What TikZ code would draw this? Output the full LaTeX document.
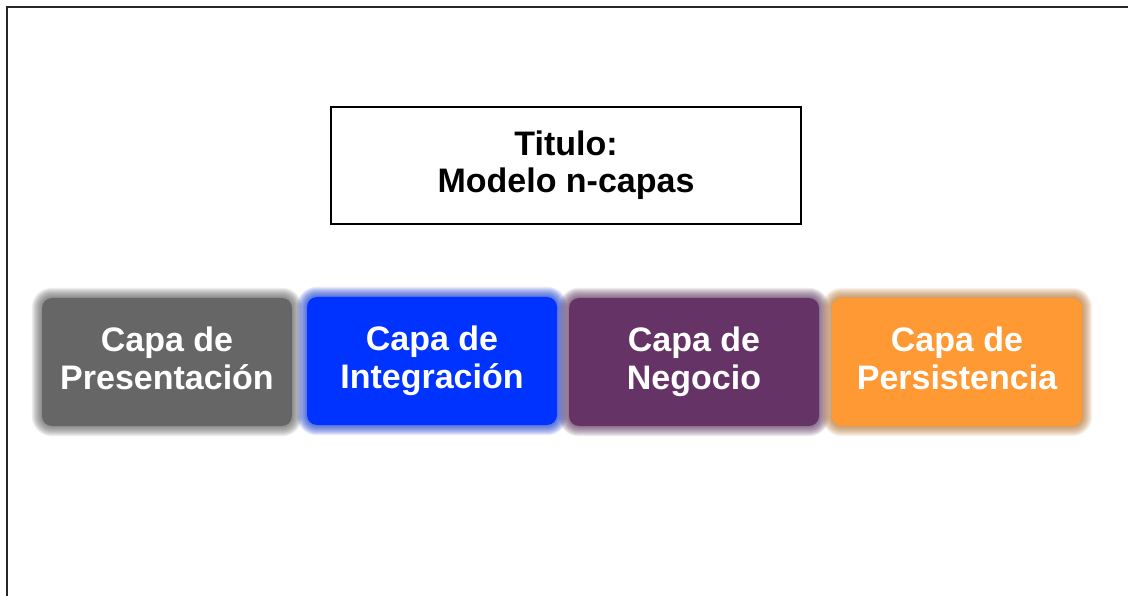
\documentclass[tikz,border=0pt]{standalone}
\usepackage{fontspec}
\setmainfont{Liberation Sans}
\usetikzlibrary{backgrounds}
\definecolor{cgray}{HTML}{666666}
\definecolor{cblue}{HTML}{0033FF}
\definecolor{cpurple}{HTML}{663366}
\definecolor{corange}{HTML}{FF9933}
\tikzset{
  layer/.style={rounded corners=10pt, minimum width=250pt, minimum height=128pt,
    inner sep=0pt, align=center, text=white,
    font=\fontsize{34}{35}\selectfont\bfseries},
  titlebox/.style={draw=black, line width=1.3pt, minimum width=470pt, minimum height=117pt,
    align=center, font=\fontsize{34}{37}\selectfont\bfseries},
  frame/.style={line width=2pt, draw=black!85},
  glow/.style={opacity=0.09}
}
\newcommand{\glowbox}[2]{%
  \foreach \r in {1,...,10}{%
    \fill[glow, #2, rounded corners=10pt+\r pt]
      ([shift={(-\r pt,-\r pt)}]#1.south west) rectangle ([shift={(\r pt,\r pt)}]#1.north east);
  }}
\begin{document}
\begin{tikzpicture}[x=1pt,y=-1pt]
\useasboundingbox (0,0) rectangle (1128,596);
\coordinate (fbl) at (7,597);
\coordinate (ftl) at (7,7);
\coordinate (ftr) at (1129,7);
\draw[frame] (fbl) -- (ftl) -- (ftr);
\node[titlebox] (title) at (566,165.5) {Titulo:\\Modelo n-capas};
\node[layer, fill=cgray] (pres) at (167,362) {Capa de\\Presentación\vphantom{Íg}};
\node[layer, fill=cblue] (integ) at (432,361) {Capa de\\Integración\vphantom{Íg}};
\node[layer, fill=cpurple] (neg) at (694,362) {Capa de\\Negocio\vphantom{Íg}};
\node[layer, fill=corange] (pers) at (957,362) {Capa de\\Persistencia\vphantom{Íg}};
\begin{scope}[on background layer]
\fill[white] (0,0) rectangle (1128,596);
\glowbox{pres}{cgray!80!black}
\glowbox{integ}{cblue!80!black}
\glowbox{neg}{cpurple!80!black}
\glowbox{pers}{corange!70!black}
\end{scope}
\end{tikzpicture}
\end{document}
